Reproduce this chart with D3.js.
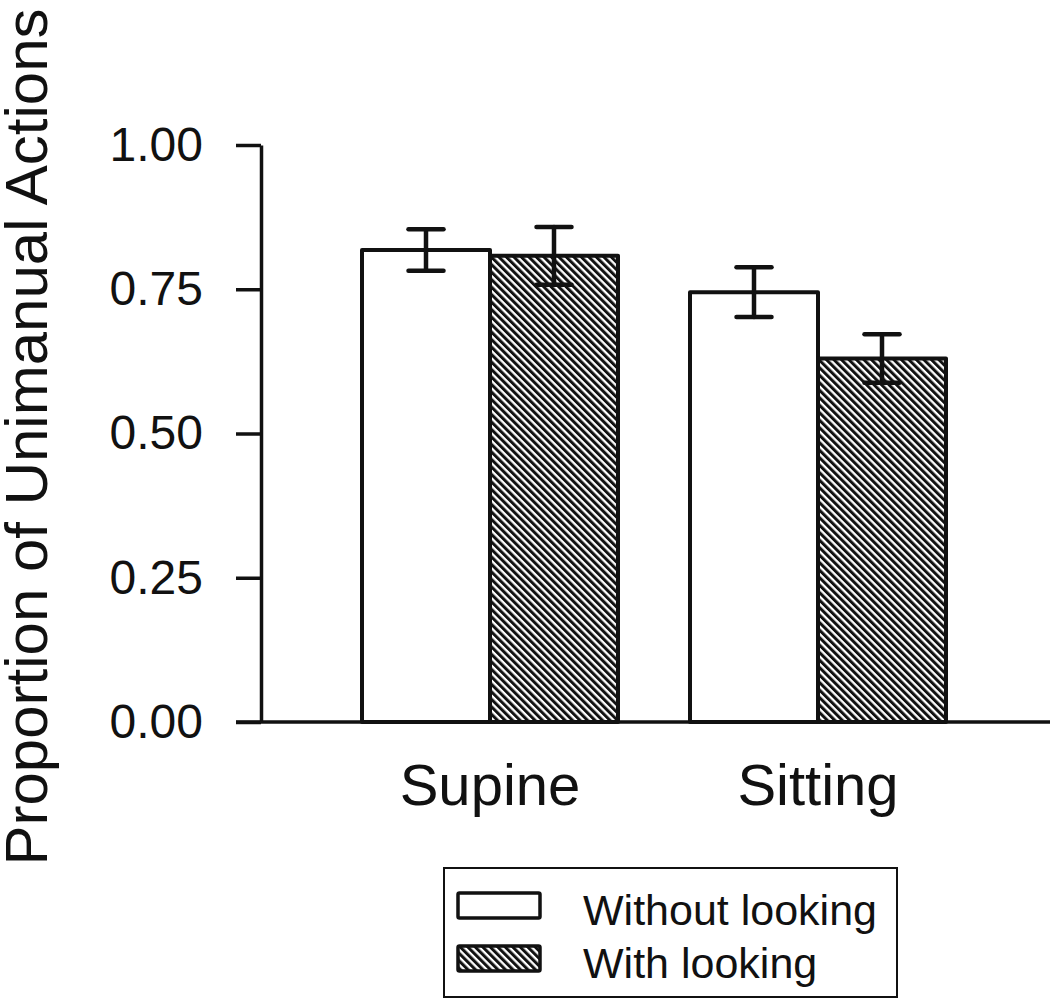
<!DOCTYPE html>
<html lang="en">
<head>
  <meta charset="UTF-8">
  <title>Unimanual actions</title>
  <style>
    body { margin: 0; background: #fff; }
    svg text { font-family: "Liberation Sans", Arial, sans-serif; fill: #111; }
  </style>
</head>
<body>
  <script src="https://d3js.org/d3.v7.min.js"></script>
  <script>
    const categories = ['Supine', 'Sitting'];
    const series = ['Without looking', 'With looking'];
    const withoutLooking = [0.818, 0.745];
    const withLooking = [0.808, 0.630];
    const errWithout = [0.036, 0.043];
    const errWith = [0.050, 0.042];
    const yTicks = [0, 0.25, 0.5, 0.75, 1.0];

    const [width, height] = [1050, 1001];
    const ink = '#111';

    const svg = d3.select('body').append('svg')
      .attr('width', width).attr('height', height);

    // hatch fill for "With looking"
    const pat = svg.append('defs').append('pattern')
      .attr('id', 'hatch')
      .attr('patternUnits', 'userSpaceOnUse')
      .attr('width', 5.3).attr('height', 5.3)
      .attr('patternTransform', 'rotate(-45)');
    pat.append('rect').attr('width', 5.3).attr('height', 5.3).attr('fill', '#fff');
    pat.append('rect').attr('width', 3).attr('height', 5.3).attr('fill', ink);

    const fills = ['#fff', 'url(#hatch)'];

    // scales
    const y = d3.scaleLinear().domain([0, 1]).range([722, 145]);
    const x0 = d3.scaleBand().domain(categories).range([362, 946])
      .paddingInner(72 / 328).paddingOuter(0);
    const x1 = d3.scaleBand().domain(series).range([0, x0.bandwidth()]);

    const rows = [];
    categories.forEach((c, i) => {
      rows.push({ cat: c, s: series[0], v: withoutLooking[i], e: errWithout[i] });
      rows.push({ cat: c, s: series[1], v: withLooking[i], e: errWith[i] });
    });

    // baseline
    svg.append('line')
      .attr('x1', 236).attr('x2', width)
      .attr('y1', y(0)).attr('y2', y(0))
      .attr('stroke', ink).attr('stroke-width', 3.5);

    // y axis
    const yAxis = d3.axisLeft(y)
      .tickValues(yTicks)
      .tickFormat(d3.format('.2f'))
      .tickSize(25)
      .tickSizeOuter(0)
      .tickPadding(33);
    const gy = svg.append('g')
      .attr('transform', 'translate(261,0)')
      .call(yAxis);
    gy.select('.domain').attr('stroke', ink).attr('stroke-width', 3.5);
    gy.selectAll('.tick line').attr('stroke', ink).attr('stroke-width', 3.5);
    gy.selectAll('.tick text')
      .attr('font-size', 48)
      .attr('font-family', '"Liberation Sans", Arial, sans-serif')
      .attr('fill', ink);

    // bars
    svg.append('g').selectAll('rect')
      .data(rows)
      .join('rect')
      .attr('x', d => x0(d.cat) + x1(d.s))
      .attr('y', d => y(d.v))
      .attr('width', x1.bandwidth())
      .attr('height', d => y(0) - y(d.v))
      .attr('fill', d => fills[series.indexOf(d.s)])
      .attr('stroke', ink)
      .attr('stroke-width', 4)
      .attr('stroke-linejoin', 'round');

    // error bars
    const capW = 35;
    const eb = svg.append('g').selectAll('g')
      .data(rows)
      .join('g')
      .attr('transform', d => `translate(${x0(d.cat) + x1(d.s) + x1.bandwidth() / 2},0)`)
      .attr('stroke', ink).attr('stroke-width', 4.5).attr('stroke-linecap', 'round');
    eb.append('line')
      .attr('y1', d => y(d.v + d.e)).attr('y2', d => y(d.v - d.e));
    eb.append('line')
      .attr('x1', -capW / 2).attr('x2', capW / 2)
      .attr('y1', d => y(d.v + d.e)).attr('y2', d => y(d.v + d.e));
    eb.append('line')
      .attr('x1', -capW / 2).attr('x2', capW / 2)
      .attr('y1', d => y(d.v - d.e)).attr('y2', d => y(d.v - d.e));

    // category labels
    svg.append('g').selectAll('text')
      .data(categories)
      .join('text')
      .attr('x', d => x0(d) + x0.bandwidth() / 2)
      .attr('y', 805)
      .attr('text-anchor', 'middle')
      .attr('font-size', 58)
      .text(d => d);

    // y title
    svg.append('text')
      .attr('transform', 'translate(47,437) rotate(-90)')
      .attr('text-anchor', 'middle')
      .attr('font-size', 60)
      .text('Proportion of Unimanual Actions');

    // legend
    const lg = svg.append('g');
    lg.append('rect')
      .attr('x', 444).attr('y', 868).attr('width', 453).attr('height', 129)
      .attr('fill', '#fff').attr('stroke', ink).attr('stroke-width', 2);
    const item = lg.selectAll('g.item')
      .data(series)
      .join('g')
      .attr('class', 'item')
      .attr('transform', (d, i) => `translate(0,${893 + i * 53})`);
    item.append('rect')
      .attr('x', 458).attr('y', 0).attr('width', 82).attr('height', 25)
      .attr('fill', (d, i) => fills[i])
      .attr('stroke', ink).attr('stroke-width', 3.5).attr('rx', 1.5);
    item.append('text')
      .attr('x', 583).attr('y', 32)
      .attr('font-size', 43)
      .text(d => d);
  </script>
</body>
</html>
